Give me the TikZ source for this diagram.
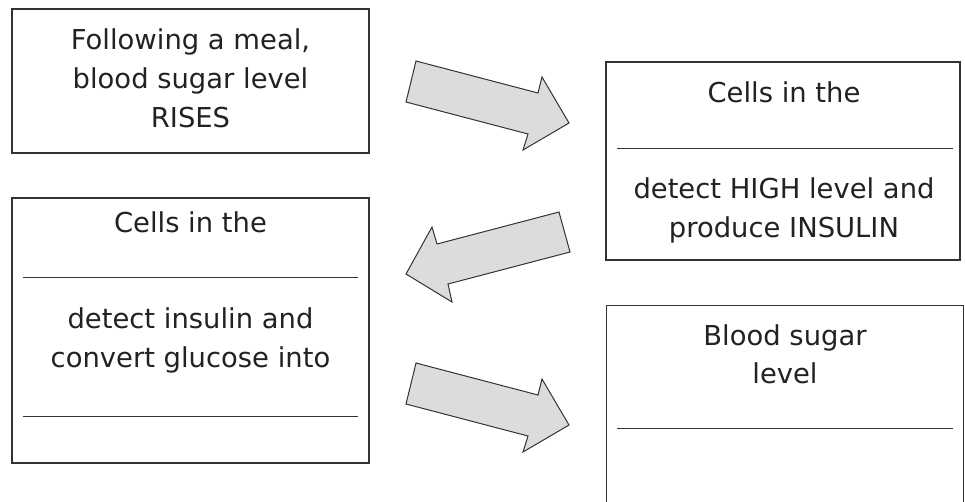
\documentclass[tikz,border=0pt]{standalone}
\usepackage{fontspec}
\setmainfont{DejaVu Sans}
\definecolor{ink}{HTML}{222222}
\definecolor{edge}{HTML}{333333}
\definecolor{arrfill}{HTML}{DCDCDC}
\tikzset{
  box/.style={draw=edge, line width=1.2pt, rectangle, inner sep=0pt},
  sepline/.style={draw=edge, line width=1pt},
  txt/.style={anchor=base, inner sep=0pt, text=ink, font=\fontsize{27.4}{39}\selectfont},
  bigarrow/.style={fill=arrfill, draw=edge, line width=1pt, line join=miter}
}
\begin{document}
\begin{tikzpicture}[x=1pt,y=-1pt]
\useasboundingbox (0,0) rectangle (965,501);
% boxes
\node[box, minimum width=357pt, minimum height=144pt] (b1) at (190.5,81) {};
\node[box, minimum width=354pt, minimum height=198pt] (b2) at (783,161) {};
\node[box, minimum width=357pt, minimum height=265pt] (b3) at (190.5,330.5) {};
\node[inner sep=0pt, minimum width=356pt, minimum height=200pt] (b4) at (785,406) {};
\draw[draw=edge, line width=1.2pt] (b4.south west) ++(0,-1) coordinate (b4sw) (b4.south east) ++(0,-1) coordinate (b4se);
\draw[draw=edge, line width=1.2pt] (b4sw) -- (b4.north west) -- (b4.north east) -- (b4se);
% separator lines
\coordinate (s2a) at (617,148); \coordinate (s2b) at (953,148);
\coordinate (s3a) at (23,277); \coordinate (s3b) at (358,277);
\coordinate (s3c) at (23,416); \coordinate (s3d) at (358,416);
\coordinate (s4a) at (617,428); \coordinate (s4b) at (953,428);
\draw[sepline] (s2a) -- (s2b);
\draw[sepline] (s3a) -- (s3b);
\draw[sepline] (s3c) -- (s3d);
\draw[sepline] (s4a) -- (s4b);
% texts
\node[txt] (t11) at (190.5,49) {Following a meal,};
\node[txt] (t12) at (190.5,88) {blood sugar level};
\node[txt] (t13) at (190.5,127) {RISES};
\node[txt] (t21) at (784,102) {Cells in the};
\node[txt] (t22) at (784,198) {detect HIGH level and};
\node[txt] (t23) at (784,237) {produce INSULIN};
\node[txt] (t31) at (190.5,232) {Cells in the};
\node[txt] (t32) at (190.5,328) {detect insulin and};
\node[txt] (t33) at (190.5,367) {convert glucose into};
\node[txt] (t41) at (785,345) {Blood sugar};
\node[txt] (t42) at (785,383) {level};
% block arrows
\draw[bigarrow] (416,61) -- (538,93) -- (542,77) -- (569,123) -- (523,150) -- (528,134) -- (406,102) -- cycle;
\draw[bigarrow] (559,212) -- (570,252) -- (448,284) -- (452,302) -- (406,274) -- (432,227) -- (437,244) -- cycle;
\draw[bigarrow] (416,363) -- (538,395) -- (542,379) -- (569,425) -- (523,452) -- (528,436) -- (406,404) -- cycle;
\end{tikzpicture}
\end{document}
